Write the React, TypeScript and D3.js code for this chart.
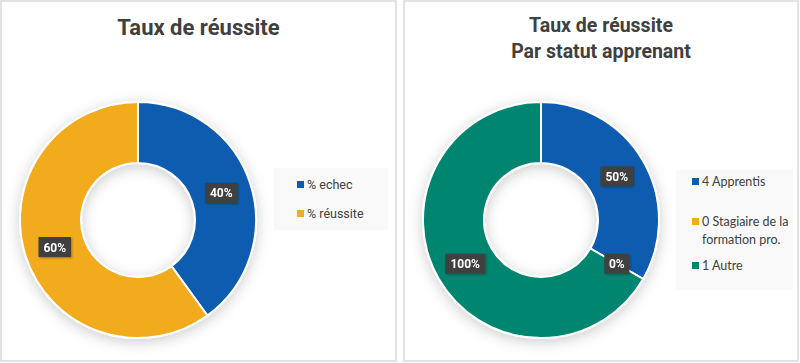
import { useMemo } from "react";
import * as d3 from "d3";

// left chart
const leftTitle = ["Taux de réussite"];
const leftCategories = ["% echec", "% réussite"];
const leftValues = [0.4, 0.6];

// right chart
const rightTitle = ["Taux de réussite", "Par statut apprenant"];
const rightCategories = ["4 Apprentis", "0 Stagiaire de la formation pro.", "1 Autre"];
const rightValues = [0.5, 0, 1];

const BLUE = "#0d5cb0";
const YELLOW = "#f2ab1a";
const GREEN = "#00856f";
const FONT = "Roboto, 'Noto Sans', sans-serif";

interface DonutProps {
  x: number;
  width: number;
  titles: string[];
  titleSize: number;
  titleY: number[];
  categories: string[];
  values: number[];
  colors: string[];
  legendBox: { x: number; y: number; w: number; h: number };
  markerOffset: number;
  legendFont: string;
  legendRows: number[][]; // baseline per line for each item
  wrap: string[][];
}

const Donut: React.FC<DonutProps> = ({
  x,
  width,
  titles,
  titleSize,
  titleY,
  categories,
  values,
  colors,
  legendBox,
  markerOffset,
  legendFont,
  legendRows,
  wrap,
}) => {
  const cx = x + 138;
  const cy = 220;
  const outer = 118;
  const inner = 57;

  const slices = useMemo(
    () =>
      d3
        .pie<number>()
        .sort(null)
        .value((d) => d)(values),
    [values]
  );
  const arc = d3.arc<d3.PieArcDatum<number>>().innerRadius(inner).outerRadius(outer);
  const mid = d3
    .arc<d3.PieArcDatum<number>>()
    .innerRadius((inner + outer) / 2)
    .outerRadius((inner + outer) / 2);
  const fmt = d3.format(".0%");

  return (
    <g>
      <rect x={x + 1} y={1} width={width} height={360} fill="#fff" stroke="#d9d9d9" strokeWidth={1.5} />
      {titles.map((t, i) => (
        <text
          key={i}
          x={x + 1 + width / 2}
          y={titleY[i]}
          textAnchor="middle"
          fontFamily={FONT}
          fontWeight={700}
          fontSize={titleSize}
          fill="#404040"
        >
          {t}
        </text>
      ))}
      <g transform={`translate(${cx},${cy})`} filter="url(#shadow)">
        {slices.map((s, i) => (
          <path key={i} d={arc(s) || ""} fill={colors[i]} stroke="#fff" strokeWidth={2} />
        ))}
      </g>
      <g transform={`translate(${cx},${cy})`}>
        {slices.map((s, i) => {
          const [lx, ly] = mid.centroid(s);
          const label = fmt(values[i]);
          const w = label.length * 7.5 + 10;
          return (
            <g key={i} transform={`translate(${lx},${ly})`} filter="url(#lblShadow)">
              <rect x={-w / 2} y={-10} width={w} height={20} fill="#404040" />
              <text
                y={4.5}
                textAnchor="middle"
                fontFamily={FONT}
                fontWeight={700}
                fontSize={12}
                fill="#fff"
              >
                {label}
              </text>
            </g>
          );
        })}
      </g>
      <rect
        x={x + legendBox.x}
        y={legendBox.y}
        width={legendBox.w}
        height={legendBox.h}
        fill="#f9f9f9"
      />
      {categories.map((c, i) => (
        <g key={c}>
          <rect
            x={x + legendBox.x + markerOffset}
            y={legendRows[i][0] - 8}
            width={7}
            height={7}
            fill={colors[i]}
          />
          {wrap[i].map((line, j) => (
            <text
              key={j}
              x={x + legendBox.x + markerOffset + 10}
              y={legendRows[i][j]}
              fontFamily={legendFont}
              fontSize={12.5}
              fill="#404040"
            >
              {line}
            </text>
          ))}
        </g>
      ))}
    </g>
  );
};

export default function App() {
  return (
    <div>
      <style>{`body{margin:0}`}</style>
      <svg width={800} height={363} style={{ display: "block" }}>
        <defs>
          <filter id="shadow" x="-30%" y="-30%" width="160%" height="160%">
            <feDropShadow dx={0} dy={3} stdDeviation={7} floodColor="#000" floodOpacity={0.2} />
          </filter>
          <filter id="lblShadow" x="-30%" y="-30%" width="160%" height="160%">
            <feDropShadow dx={1} dy={1} stdDeviation={1} floodColor="#000" floodOpacity={0.3} />
          </filter>
        </defs>
        <rect width={800} height={363} fill="#fff" />
        <Donut
          x={0}
          width={395}
          titles={leftTitle}
          titleSize={22}
          titleY={[35]}
          categories={leftCategories}
          values={leftValues}
          colors={[BLUE, YELLOW]}
          legendBox={{ x: 274, y: 168, w: 114, h: 62 }}
          markerOffset={23}
          legendFont={FONT}
          legendRows={[[189], [218]]}
          wrap={[["% echec"], ["% réussite"]]}
        />
        <Donut
          x={403}
          width={394}
          titles={rightTitle}
          titleSize={19.5}
          titleY={[32, 58]}
          categories={rightCategories}
          values={rightValues}
          colors={[BLUE, YELLOW, GREEN]}
          legendBox={{ x: 273, y: 170, w: 117, h: 120 }}
          markerOffset={16}
          legendFont="Lato, sans-serif"
          legendRows={[[186], [226, 244], [270]]}
          wrap={[["4 Apprentis"], ["0 Stagiaire de la", "formation pro."], ["1 Autre"]]}
        />
      </svg>
    </div>
  );
}
